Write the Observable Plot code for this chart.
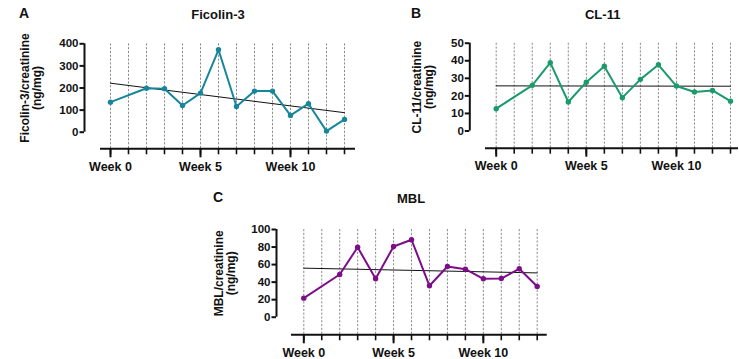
<!DOCTYPE html>
<html>
<head>
<meta charset="utf-8">
<script src="https://cdn.jsdelivr.net/npm/d3@7"></script>
<script src="https://cdn.jsdelivr.net/npm/@observablehq/plot@0.6"></script>
<style>
  html, body { margin: 0; padding: 0; background: #fff; }
  #root { position: relative; width: 739px; height: 359px; overflow: hidden; background: #fff;
          font-family: "Liberation Sans", Arial, sans-serif; font-weight: bold; color: #111; }
  .panel { position: absolute; }
  .lbl { position: absolute; transform: translate(-50%, -50%); line-height: 1; white-space: nowrap; }
  .letter { position: absolute; transform: translate(0, -50%); line-height: 1; font-size: 14px; }
</style>
</head>
<body>
<div id="root"></div>
<script>
// ---- data ----
const weeks = [0, 2, 3, 4, 5, 6, 7, 8, 9, 10, 11, 12, 13];
const ficolin3 = [136, 199, 197, 121, 177, 373, 116, 186, 186, 76, 129, 5, 58];
const cl11 = [12.7, 26, 38.9, 16.5, 27.8, 36.9, 19, 29.4, 37.7, 25.6, 22.2, 23.1, 17];
const mbl = [21.7, 48.7, 79.8, 43.8, 80.6, 88.3, 35.8, 57.8, 54.7, 43.8, 44.1, 55.2, 35];

const gridWeeks = [0, 1, 2, 3, 4, 5, 6, 7, 8, 9, 10, 11, 12, 13];
const majorWeeks = [0, 5, 10];
const majorLabels = ["Week 0", "Week 5", "Week 10"];

const ticksFicolin = [0, 100, 200, 300, 400];
const ticksCL11 = [0, 10, 20, 30, 40, 50];
const ticksMBL = [0, 20, 40, 60, 80, 100];

const root = document.getElementById("root");

function panel(cfg) {
  const data = weeks.map((w, i) => ({week: w, value: cfg.values[i]}));
  const chart = Plot.plot({
    width: cfg.width,
    height: cfg.height,
    marginLeft: cfg.mL,
    marginRight: cfg.mR,
    marginTop: cfg.mT,
    marginBottom: cfg.mB,
    x: {domain: [0, 13], range: cfg.xRange},
    y: {domain: [0, cfg.yMax]},
    style: {fontFamily: "'Liberation Sans', Arial, sans-serif", fontWeight: "bold", fontSize: "11px", color: "#111", background: "transparent", overflow: "visible"},
    marks: [
      Plot.ruleX(gridWeeks, {stroke: "#808080", strokeWidth: 0.9, strokeDasharray: "2.2,1.6", insetBottom: -cfg.xAxisDy}),
      Plot.ruleX([0], {dx: cfg.yAxisX - cfg.xRange[0], stroke: "#111", strokeWidth: 2}),
      Plot.ruleY([0], {dy: cfg.xAxisDy, stroke: "#111", strokeWidth: 2}),
      Plot.axisY({ticks: cfg.yTicks, anchor: "left", dx: cfg.yAxisX - cfg.mL, tickSize: 4.5, strokeWidth: 2, tickPadding: 1.5, label: null, fontSize: 11.5}),
      Plot.axisX({ticks: gridWeeks, anchor: "bottom", dy: cfg.xAxisDy, tickSize: 6, strokeWidth: 1.6, tickFormat: () => "", label: null}),
      Plot.axisX({ticks: majorWeeks, anchor: "bottom", dy: cfg.xAxisDy, tickSize: 9, strokeWidth: 2, tickPadding: 4, fontSize: 12.5,
                  tickFormat: d => majorLabels[majorWeeks.indexOf(d)], label: null}),
      Plot.linearRegressionY(data, {x: "week", y: "value", ci: 0, stroke: "#111", strokeWidth: 1}),
      Plot.line(data, {x: "week", y: "value", stroke: cfg.color, strokeWidth: 2}),
      Plot.dot(data, {x: "week", y: "value", fill: cfg.color, r: 2.7}),
      Plot.text([cfg.yLabel], {frameAnchor: "left", textAnchor: "middle", lineAnchor: "middle", rotate: -90, dx: cfg.labelDx, text: d => d, fontSize: 12, lineHeight: 1.0, fill: "#111"})
    ]
  });
  chart.classList.add("panel");
  chart.style.left = cfg.left + "px";
  chart.style.top = cfg.top + "px";
  root.appendChild(chart);

  const t = document.createElement("div");
  t.className = "lbl";
  t.style.left = cfg.titleX + "px";
  t.style.top = cfg.titleY + "px";
  t.style.fontSize = "13px";
  t.textContent = cfg.title;
  root.appendChild(t);

  const l = document.createElement("div");
  l.className = "letter";
  l.style.left = cfg.letterX + "px";
  l.style.top = cfg.letterY + "px";
  l.textContent = cfg.letter;
  root.appendChild(l);
}

panel({
  values: ficolin3, yMax: 400, yTicks: ticksFicolin, color: "#17869b",
  left: 0, top: 0, width: 370, height: 180,
  mL: 100, mR: 15, mT: 43.3, mB: 48.3, xRange: [110, 344],
  yAxisX: 84, xAxisDy: 16.6, labelDx: -69,
  yLabel: "Ficolin-3/creatinine\n(ng/mg)",
  title: "Ficolin-3", titleX: 218, titleY: 14,
  letter: "A", letterX: 19, letterY: 13
});

panel({
  values: cl11, yMax: 50, yTicks: ticksCL11, color: "#1a9b6c",
  left: 370, top: 0, width: 369, height: 180,
  mL: 115, mR: 1, mT: 42.7, mB: 49.5, xRange: [125.7, 360],
  yAxisX: 99.3, xAxisDy: 17.2, labelDx: -62.7,
  yLabel: "CL-11/creatinine\n(ng/mg)",
  title: "CL-11", titleX: 602.7, titleY: 14,
  letter: "B", letterX: 411, letterY: 13
});

panel({
  values: mbl, yMax: 100, yTicks: ticksMBL, color: "#7d0d88",
  left: 190, top: 180, width: 370, height: 179,
  mL: 101, mR: 13.3, mT: 49, mB: 42.3, xRange: [113.3, 346.7],
  yAxisX: 86, xAxisDy: 17.6, labelDx: -66.3,
  yLabel: "MBL/creatinine\n(ng/mg)",
  title: "MBL", titleX: 411, titleY: 198.3,
  letter: "C", letterX: 213, letterY: 197
});
</script>
</body>
</html>
